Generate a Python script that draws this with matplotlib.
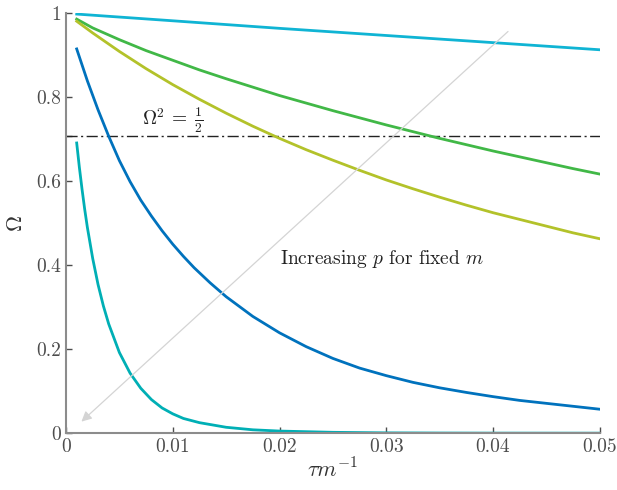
import matplotlib
matplotlib.use('Agg')
import matplotlib.pyplot as plt

plt.rcParams['font.family'] = 'serif'
plt.rcParams['font.serif'] = ['cmr10', 'DejaVu Serif']
plt.rcParams['mathtext.fontset'] = 'cm'
plt.rcParams['axes.unicode_minus'] = False

# values
x_top = [0.001, 0.01, 0.02, 0.03, 0.04, 0.05]
y_top = [0.998, 0.982, 0.964, 0.947, 0.930, 0.913]

x_grid = [0.001, 0.0025, 0.005, 0.0075, 0.01, 0.0125, 0.015, 0.0175, 0.02, 0.0225, 0.025,
          0.0275, 0.03, 0.0325, 0.035, 0.0375, 0.04, 0.0425, 0.045, 0.0475, 0.05]
y_green = [0.986, 0.965, 0.937, 0.911, 0.888, 0.865, 0.844, 0.824, 0.804, 0.786, 0.768,
           0.751, 0.734, 0.718, 0.702, 0.687, 0.672, 0.658, 0.644, 0.630, 0.617]
y_yellow = [0.981, 0.953, 0.909, 0.868, 0.830, 0.795, 0.762, 0.731, 0.702, 0.675, 0.650,
            0.626, 0.603, 0.582, 0.562, 0.543, 0.525, 0.509, 0.493, 0.477, 0.463]

x_blue = [0.001, 0.002, 0.003, 0.004, 0.005, 0.006, 0.007, 0.008, 0.009, 0.01, 0.011, 0.012,
          0.0135, 0.015, 0.0175, 0.02, 0.0225, 0.025, 0.0275, 0.03, 0.0325, 0.035, 0.0375,
          0.04, 0.0425, 0.045, 0.0475, 0.05]
y_blue = [0.915, 0.839, 0.770, 0.707, 0.649, 0.599, 0.555, 0.517, 0.482, 0.450, 0.421, 0.394,
          0.358, 0.325, 0.278, 0.239, 0.206, 0.178, 0.155, 0.137, 0.121, 0.108, 0.097,
          0.087, 0.078, 0.071, 0.064, 0.057]

x_teal = [0.001, 0.00125, 0.0015, 0.00175, 0.002, 0.0025, 0.003, 0.0035, 0.004, 0.005, 0.006,
          0.007, 0.008, 0.009, 0.01, 0.011, 0.0125, 0.015, 0.0175, 0.02, 0.025, 0.03, 0.035,
          0.04, 0.05]
y_teal = [0.691, 0.633, 0.581, 0.533, 0.490, 0.416, 0.354, 0.303, 0.260, 0.192, 0.143,
          0.107, 0.080, 0.060, 0.046, 0.035, 0.025, 0.014, 0.008, 0.005, 0.002, 0.0007,
          0.0003, 0.0001, 0.0]

half_level = 0.5 ** 0.5

xticks = [0, 0.01, 0.02, 0.03, 0.04, 0.05]
xticklabels = ['0', '0.01', '0.02', '0.03', '0.04', '0.05']
yticks = [0, 0.2, 0.4, 0.6, half_level, 0.8, 1.0]
yticklabels = ['0', '0.2', '0.4', '0.6', '', '0.8', '1']

fig = plt.figure(figsize=(6.17, 4.9), dpi=100)
ax = fig.add_axes([0.107, 0.116, 0.865, 0.857])

ax.axhline(half_level, color='#222222', lw=1.0, dashes=(8, 2.5, 1.5, 2.5))
ax.plot(x_top, y_top, color='#10b4d4', lw=2)
ax.plot(x_grid, y_green, color='#41b847', lw=2)
ax.plot(x_grid, y_yellow, color='#b3c22a', lw=2)
ax.plot(x_blue, y_blue, color='#0072bd', lw=2)
ax.plot(x_teal, y_teal, color='#00afb5', lw=2)

ax.annotate('', xy=(0.00125, 0.023), xytext=(0.0416, 0.961),
            arrowprops=dict(arrowstyle='-|>', color='#d4d4d4', lw=0.9,
                            mutation_scale=15))

ax.text(0.0071, 0.745, r'$\Omega^2\,=\;\frac{1}{2}$', fontsize=14, va='center',
        color='#222222')
ax.text(0.0200, 0.414, r'Increasing $p$ for fixed $m$', fontsize=14, va='center',
        color='#222222')

ax.set_xlim(0, 0.05)
ax.set_ylim(0, 1)
ax.set_xticks(xticks)
ax.set_xticklabels(xticklabels)
ax.set_yticks(yticks)
ax.set_yticklabels(yticklabels)
ax.tick_params(direction='in', labelsize=14, colors='#4d4d4d', length=4, width=1)
for s in ['top', 'right']:
    ax.spines[s].set_visible(False)
for s in ['left', 'bottom']:
    ax.spines[s].set_color('#8c8c8c')
    ax.spines[s].set_linewidth(1.5)

ax.set_xlabel(r'$\tau m^{-1}$', fontsize=16, color='#333333', labelpad=1)
ax.set_ylabel(r'$\Omega$', fontsize=16, color='#333333', labelpad=7)

fig.savefig('out.png', dpi=100)
